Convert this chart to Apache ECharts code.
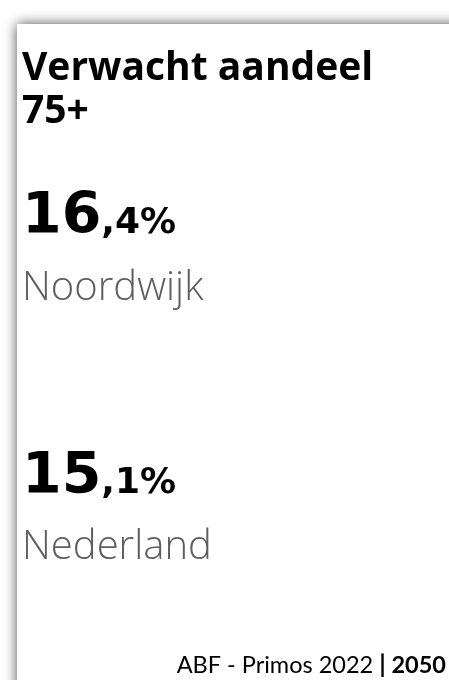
<!DOCTYPE html>
<html>
<head>
<meta charset="utf-8">
<script src="https://cdn.jsdelivr.net/npm/echarts@6/dist/echarts.min.js"></script>
<style>
  html, body { margin: 0; padding: 0; background: #fff; }
  #card { width: 449px; height: 680px; }
</style>
</head>
<body>
<div id="card"></div>
<script>
var titleLines = ['Verwacht aandeel', '75+'];
var places = ['Noordwijk', 'Nederland'];
var shares = [16.4, 15.1];
var source = 'ABF - Primos 2022';
var year = '2050';

var chart = echarts.init(document.getElementById('card'), null, { renderer: 'canvas' });

var rowTops = [197, 457];
var labelMids = [289, 548];

function shareText(v) {
    var parts = v.toFixed(1).split('.');
    return '{big|' + parts[0] + '}{small|,' + parts[1] + '%}';
}

var elements = [
    {
        type: 'rect',
        shape: { x: 17, y: 24, width: 480, height: 700 },
        style: { fill: '#fff', shadowBlur: 12, shadowColor: 'rgba(0,0,0,0.7)' },
        z: 0
    },
    {
        type: 'text',
        x: 22, y: 47,
        style: {
            text: titleLines.join('\n'),
            font: 'bold 39px "Open Sans"',
            fill: '#000',
            lineHeight: 43,
            verticalAlign: 'top'
        },
        z: 2
    },
    {
        type: 'text',
        x: 446, y: 665,
        style: {
            text: '{a|' + source + ' }{b||}{c| ' + year + '}',
            align: 'right',
            verticalAlign: 'middle',
            rich: {
                a: { fontFamily: 'Lato', fontSize: 23.5, color: '#4a4a4a', verticalAlign: 'middle' },
                b: { fontFamily: 'Lato', fontSize: 25, fontWeight: 'bold', color: '#1f3050', verticalAlign: 'middle' },
                c: { fontFamily: 'Lato', fontSize: 23.5, fontWeight: 'bold', color: '#111', verticalAlign: 'middle' }
            }
        },
        z: 2
    }
];

for (var i = 0; i < shares.length; i++) {
    elements.push({
        type: 'text',
        x: 22, y: rowTops[i],
        style: {
            text: shareText(shares[i]),
            verticalAlign: 'top',
            rich: {
                big: { fontFamily: 'DejaVu Sans', fontSize: 57, fontWeight: 'bold', color: '#000', lineHeight: 50, verticalAlign: 'bottom' },
                small: { fontFamily: 'DejaVu Sans', fontSize: 36, fontWeight: 'bold', color: '#000', lineHeight: 44, verticalAlign: 'bottom', padding: [0, 0, 5, 0] }
            }
        },
        z: 2
    });
    elements.push({
        type: 'text',
        x: 22, y: labelMids[i],
        style: {
            text: places[i],
            font: '300 40px "Open Sans"',
            fill: '#605e5c',
            verticalAlign: 'middle'
        },
        z: 2
    });
}

chart.setOption({
    backgroundColor: '#fff',
    animation: false,
    graphic: { elements: elements }
});
</script>
</body>
</html>
